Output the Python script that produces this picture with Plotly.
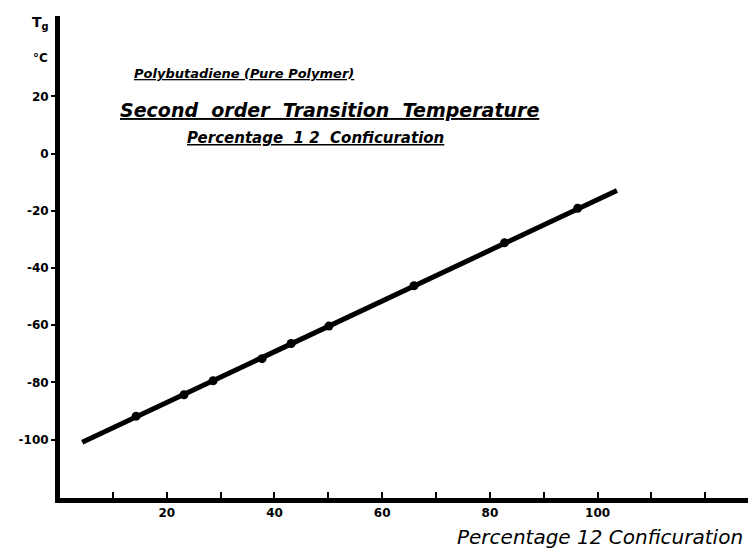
import plotly.graph_objects as go

# Data
pct_12 = [14.3, 23.2, 28.6, 37.7, 43.1, 50.1, 65.9, 82.7, 96.3]
tg_c = [-91.8, -84.3, -79.4, -71.7, -66.4, -60.3, -46.2, -31.2, -19.1]
fit_x = [4.3, 103.6]
fit_y = [-100.9, -12.9]

x_tick_vals = [20, 40, 60, 80, 100]
x_tick_text = ["20", "40", "60", "80", "100"]
x_minor_vals = [10, 30, 50, 70, 90, 110, 120]
y_tick_vals = [20, 0, -20, -40, -60, -80, -100]
y_tick_text = ["20", "0", "-20", "-40", "-60", "-80", "-100"]

title_lines = [
    "Polybutadiene (Pure Polymer)",
    "Second  order  Transition  Temperature",
    "Percentage  1 2  Conficuration",
]
x_title = "Percentage 12 Conficuration"

FONT = "DejaVu Sans"

fig = go.Figure()
fig.add_trace(go.Scatter(x=fit_x, y=fit_y, mode="lines",
                         line=dict(color="black", width=5), showlegend=False))
fig.add_trace(go.Scatter(x=pct_12, y=tg_c, mode="markers",
                         marker=dict(color="black", size=9), showlegend=False))

fig.update_layout(
    width=756, height=551,
    margin=dict(l=52, r=0, t=8, b=61),
    paper_bgcolor="white", plot_bgcolor="white",
    font=dict(family=FONT, color="black"),
    xaxis=dict(range=[0.17, 130.9], showgrid=False, zeroline=False,
               showline=True, linecolor="black", linewidth=5,
               ticks="inside", ticklen=6, tickwidth=2, tickcolor="black",
               tickvals=x_tick_vals, ticktext=x_tick_text,
               minor=dict(tickvals=x_minor_vals, ticks="inside", ticklen=6,
                          tickwidth=2, tickcolor="black", showgrid=False),
               tickfont=dict(family=FONT, size=12, weight="bold")),
    yaxis=dict(range=[-120.4, 48.1], showgrid=False, zeroline=False,
               showline=True, linecolor="black", linewidth=5,
               ticks="outside", ticklen=4, tickwidth=2, tickcolor="black",
               tickvals=y_tick_vals, ticktext=y_tick_text,
               tickfont=dict(family=FONT, size=12, weight="bold")),
)

title_pos = [(0.262, 0.880, 13), (0.383, 0.805, 19), (0.363, 0.747, 15)]
for txt, (px, py, fs) in zip(title_lines, title_pos):
    fig.add_annotation(text=f"<i><u>{txt}</u></i>", x=px, y=py,
                       xref="paper", yref="paper", showarrow=False,
                       xanchor="center", yanchor="middle",
                       font=dict(family=FONT, size=fs, weight="bold"))

fig.add_annotation(text=f"<i>{x_title}</i>", x=0.561, y=-0.081,
                   xref="paper", yref="paper", showarrow=False,
                   xanchor="left", yanchor="middle",
                   font=dict(family=FONT, size=20))
fig.add_annotation(text="<b>T<sub>g</sub></b>", x=-0.027, y=0.985,
                   xref="paper", yref="paper", showarrow=False,
                   xanchor="center", yanchor="middle",
                   font=dict(family=FONT, size=14))
fig.add_annotation(text="<b>°C</b>", x=-0.027, y=0.913,
                   xref="paper", yref="paper", showarrow=False,
                   xanchor="center", yanchor="middle",
                   font=dict(family=FONT, size=12))

fig.write_html("out.html")
